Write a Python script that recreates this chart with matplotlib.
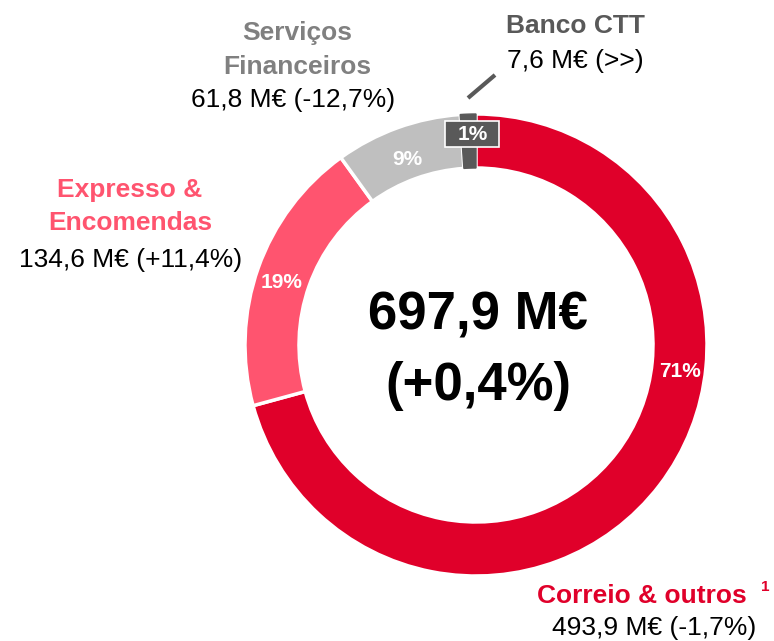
import matplotlib.pyplot as plt
from matplotlib.patches import Rectangle
import numpy as np

plt.rcParams['font.family'] = ['Liberation Sans', 'DejaVu Sans']

segments = ['Correio & outros', 'Expresso & Encomendas', 'Serviços Financeiros', 'Banco CTT']
values = [493.9, 134.6, 61.8, 7.6]
changes = ['-1,7%', '+11,4%', '-12,7%', '>>']
total_label = '697,9 M€'
total_change = '(+0,4%)'
colors = ['#E0002A', '#FF546F', '#BFBFBF', '#595959']

H = 641
def Y(y):
    return H - y

fig = plt.figure(figsize=(7.74, 6.41), dpi=100)
ax = fig.add_axes([0, 0, 1, 1])

cx, cy, R, W = 476, Y(345), 231, 54
wedges, _ = ax.pie(values, colors=colors, startangle=90, counterclock=False,
                   center=(cx, cy), radius=R,
                   wedgeprops=dict(width=W, edgecolor='white', linewidth=2.5))
wedges[3].set_edgecolor('#595959')
wedges[3].set_linewidth(1)
ax.set_xlim(0, 774)
ax.set_ylim(0, H)
ax.set_aspect('equal')
ax.axis('off')

# percentage labels (angle, radius) like the slide placement
total = sum(values)
pcts = ['%d%%' % round(v / total * 100) for v in values]
lab_pos = [(-7.5, 206), (162.3, 204), (110.3, 198), (91, 211)]
for i, (p, (ang, r)) in enumerate(zip(pcts, lab_pos)):
    x = cx + r * np.cos(np.radians(ang))
    y = cy + r * np.sin(np.radians(ang))
    if i == 3:
        ax.add_patch(Rectangle((x - 27, y - 13), 54, 26, fc='#595959', ec='white', lw=1.2, zorder=3))
    ax.text(x, y, p, ha='center', va='center', color='white', fontsize=15,
            fontweight='bold', zorder=4)

# centre total
ax.text(cx + 2, Y(315), total_label, ha='center', va='center', fontsize=38, fontweight='bold')
ax.text(cx + 2, Y(386), total_change, ha='center', va='center', fontsize=38, fontweight='bold')

fs = 19
# Serviços Financeiros
ax.text(297, Y(40), 'Serviços', ha='center', va='baseline', fontsize=fs, fontweight='bold', color='#808080')
ax.text(297, Y(74), 'Financeiros', ha='center', va='baseline', fontsize=fs, fontweight='bold', color='#808080')
ax.text(293, Y(107), '%s M€ (%s)' % (str(values[2]).replace('.', ','), changes[2]),
        ha='center', va='baseline', fontsize=fs)

# Expresso & Encomendas
ax.text(130, Y(197), 'Expresso &', ha='center', va='baseline', fontsize=fs, fontweight='bold', color='#FF546F')
ax.text(130, Y(230), 'Encomendas', ha='center', va='baseline', fontsize=fs, fontweight='bold', color='#FF546F')
ax.text(131, Y(267), '%s M€ (%s)' % (str(values[1]).replace('.', ','), changes[1]),
        ha='center', va='baseline', fontsize=fs)

# Banco CTT
ax.text(575, Y(33), 'Banco CTT', ha='center', va='baseline', fontsize=fs, fontweight='bold', color='#595959')
ax.text(575, Y(68), '%s M€ (%s)' % (str(values[3]).replace('.', ','), changes[3]),
        ha='center', va='baseline', fontsize=fs)
ax.plot([468, 495], [Y(98), Y(75)], color='#595959', lw=3, solid_capstyle='butt')

# Correio & outros
ax.text(537, Y(603), 'Correio & outros', ha='left', va='baseline', fontsize=fs, fontweight='bold', color='#E0002A')
ax.text(761, Y(591), '1', ha='left', va='baseline', fontsize=11, fontweight='bold', color='#E0002A')
ax.text(654, Y(635), '%s M€ (%s)' % (str(values[0]).replace('.', ','), changes[0]),
        ha='center', va='baseline', fontsize=fs)

fig.savefig('out.png', dpi=100, facecolor='white')
